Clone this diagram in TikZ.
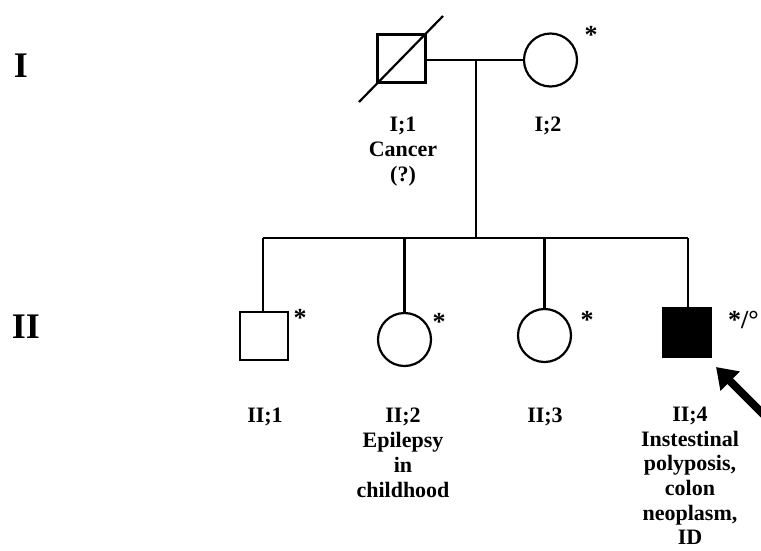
\documentclass[tikz,border=0pt]{standalone}
\usepackage{fontspec}
\setmainfont{Liberation Serif}
\usetikzlibrary{arrows.meta}
\begin{document}
\begin{tikzpicture}[x=1pt,y=-1pt,
  ln/.style={line width=2.2pt},
  male/.style={draw,line width=2.2pt,rectangle,minimum size=48pt,inner sep=0pt},
  female/.style={draw,line width=2.2pt,circle,minimum size=53pt,inner sep=0pt},
  lbl/.style={font=\bfseries\fontsize{22}{25}\selectfont,align=center,anchor=north,inner sep=0pt},
  gen/.style={font=\bfseries\fontsize{36}{40}\selectfont,inner sep=0pt},
  ast/.style={font=\bfseries\fontsize{26}{28}\selectfont,inner sep=0pt}]
\useasboundingbox (0,0) rectangle (761,550);
% generation labels
\node[gen] (g1) at (21,66) {I};
\node[gen] (g2) at (26,327) {II};
% generation I
\node[male] (i1) at (401.5,58.5) {};
\node[female] (i2) at (550.5,60) {};
\coordinate (s1) at (359,102);
\coordinate (s2) at (443,16);
\draw[ln] (s1) -- (s2);
\draw[ln] (i1.east |- 0,60) -- (i2.west);
\coordinate (m) at (476,60);
\coordinate (sib) at (476,238);
\draw[ln] (m) -- (sib);
\node[ast] (a12) at (591,35) {*};
\node[lbl] (l11) at (403,117) {I;1\\Cancer\\(?)};
\node[lbl] (l12) at (548,117) {I;2};
% generation II
\node[male] (ii1) at (264,336) {};
\node[female] (ii2) at (404.5,339.5) {};
\node[female] (ii3) at (544.5,335.5) {};
\node[male,fill=black] (ii4) at (687,332.5) {};
\coordinate (sL) at (263,238);
\coordinate (sR) at (688,238);
\draw[ln] (sL) -- (sR);
\draw[ln] (sL) -- (sL |- ii1.north);
\draw[ln] (ii2.north |- sL) -- (ii2.north);
\draw[ln] (ii3.north |- sL) -- (ii3.north);
\draw[ln] (sR) -- (sR |- ii4.north);
\node[ast] (a21) at (300,318) {*};
\node[ast] (a22) at (439,322) {*};
\node[ast] (a23) at (587,320) {*};
\node[ast,anchor=west] (a24) at (728,320) {*/°};
\node[lbl] (l21) at (265,408) {II;1};
\node[lbl] (l22) at (403,408) {II;2\\Epilepsy\\in\\childhood};
\node[lbl] (l23) at (545,408) {II;3};
\node[lbl,font=\bfseries\fontsize{22}{24.6}\selectfont] (l24) at (690,407) {II;4\\Instestinal\\polyposis,\\colon\\neoplasm,\\ID};
% proband arrow
\coordinate (at) at (765,416);
\coordinate (ah) at (716,367);
\draw[line width=8pt,-{Triangle[length=20pt,width=26pt]}] (at) -- (ah);
\end{tikzpicture}
\end{document}
